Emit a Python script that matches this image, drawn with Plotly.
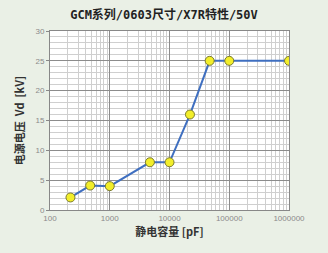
import plotly.graph_objects as go

capacitance_pf = [220, 470, 1000, 4700, 10000, 22000, 47000, 100000, 1000000]
voltage_kv = [2.1, 4.1, 4.0, 8.0, 8.0, 16.0, 25.0, 25.0, 25.0]
x_tick_vals = [100, 1000, 10000, 100000, 1000000]
x_tick_text = ["100", "1000", "10000", "100000", "1000000"]
y_tick_vals = [0, 5, 10, 15, 20, 25, 30]

fig = go.Figure()
fig.add_trace(go.Scatter(
    x=capacitance_pf, y=voltage_kv, mode="lines+markers",
    line=dict(color="#3f6fc0", width=2),
    marker=dict(color="#f2ee2a", size=9, line=dict(color="#7a7a30", width=1)),
    showlegend=False,
))

fig.update_layout(
    width=328, height=253,
    margin=dict(l=50, r=39, t=31, b=43),
    paper_bgcolor="#eaf0e6",
    plot_bgcolor="#ffffff",
    title=dict(text="<b>GCM系列/0603尺寸/X7R特性/50V</b>", x=0.5, xanchor="center",
               y=0.94, yanchor="middle",
               font=dict(family="DejaVu Sans Mono, Noto Sans CJK SC", size=12, color="#222222")),
    font=dict(family="Liberation Sans, Noto Sans CJK SC"),
)
fig.update_xaxes(
    type="log", range=[2, 6],
    tickvals=x_tick_vals, ticktext=x_tick_text,
    tickfont=dict(size=8, color="#8a8a8a"),
    showgrid=True, gridcolor="#8c8c8c", gridwidth=1,
    minor=dict(dtick="D1", showgrid=True, gridcolor="#cfcfcf", gridwidth=1),
    showline=True, linecolor="#888888", mirror=True,
    ticks="", zeroline=False,
    title=dict(text="<b>静电容量 [pF]</b>", standoff=6,
               font=dict(family="Noto Sans CJK SC", size=11, color="#333333")),
)
fig.update_yaxes(
    range=[0, 30], tickvals=y_tick_vals,
    tickfont=dict(size=8, color="#8a8a8a"),
    showgrid=True, gridcolor="#8c8c8c", gridwidth=1,
    minor=dict(dtick=1, showgrid=True, gridcolor="#cfcfcf", gridwidth=1),
    showline=True, linecolor="#888888", mirror=True,
    ticks="outside", ticklen=3, tickcolor="#888888", zeroline=False,
    title=dict(text="<b>电源电压  Vd  [kV]</b>", standoff=8,
               font=dict(family="Noto Sans CJK SC", size=11, color="#333333")),
)

fig.write_html("out.html")
